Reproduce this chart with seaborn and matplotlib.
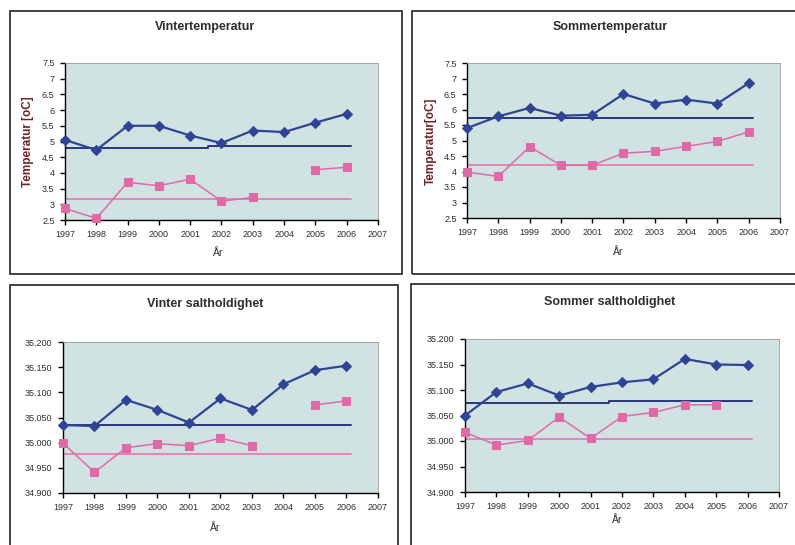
import numpy as np
import pandas as pd
import matplotlib
matplotlib.use("Agg")
import matplotlib.pyplot as plt
from matplotlib.patches import Rectangle
from matplotlib.ticker import FixedLocator, FuncFormatter
import seaborn as sns

# ---- data -------------------------------------------------------------
years = list(range(1997, 2007))
x_ticks = list(range(1997, 2008))
ref_span = [1997, 2006.15]

vinter_temp_a = [5.05, 4.73, 5.50, 5.50, 5.19, 4.95, 5.35, 5.30, 5.60, 5.88]
vinter_temp_b = [2.87, 2.55, 3.70, 3.59, 3.80, 3.10, 3.22, np.nan, 4.10, 4.18]
vinter_temp_ref_a = [4.80, 4.86]
vinter_temp_ref_b = [3.16, 3.16]

sommer_temp_a = [5.40, 5.78, 6.05, 5.80, 5.83, 6.50, 6.19, 6.32, 6.19, 6.85]
sommer_temp_b = [3.98, 3.84, 4.80, 4.20, 4.20, 4.59, 4.65, 4.81, 4.97, 5.28]
sommer_temp_ref_a = [5.74, 5.74]
sommer_temp_ref_b = [4.20, 4.20]

vinter_salt_a = [35.035, 35.033, 35.085, 35.065, 35.040, 35.088, 35.065, 35.116, 35.144, 35.153]
vinter_salt_b = [34.999, 34.941, 34.990, 34.998, 34.994, 35.009, 34.994, np.nan, 35.075, 35.083]
vinter_salt_ref_a = [35.035, 35.035]
vinter_salt_ref_b = [34.978, 34.978]

sommer_salt_a = [35.050, 35.096, 35.113, 35.089, 35.106, 35.115, 35.121, 35.161, 35.150, 35.149]
sommer_salt_b = [35.017, 34.992, 35.001, 35.047, 35.005, 35.048, 35.056, 35.071, 35.071, np.nan]
sommer_salt_ref_a = [35.075, 35.079]
sommer_salt_ref_b = [35.004, 35.004]

temp_ticks = [2.5, 3, 3.5, 4, 4.5, 5, 5.5, 6, 6.5, 7, 7.5]
salt_ticks = [34.900, 34.950, 35.000, 35.050, 35.100, 35.150, 35.200]

# ---- style ------------------------------------------------------------
sns.set_theme(style="white")
plt.rcParams["font.family"] = ["Liberation Sans", "DejaVu Sans"]

BLUE = "#2F4494"
BLUE_REF = "#2A3580"
PINK = "#E06AA8"
PINK_REF = "#E77DB6"
PLOT_BG = "#D0E3E2"
TEXT = "#2E2E2E"

W, H = 795, 545
fig = plt.figure(figsize=(W / 100, H / 100), dpi=100)
fig.patch.set_facecolor("white")


def fig_rect(left, top, right, bottom):
    return [left / W, 1 - bottom / H, (right - left) / W, (bottom - top) / H]


def segments(values):
    df = pd.DataFrame({"year": years, "value": values})
    df["seg"] = df["value"].isna().cumsum()
    return df.dropna()


def panel(box, frame, title, title_xy, a, b, ref_a, ref_b, ylim, yticks, fmt,
          xlabel_xy, ylabel=None, ylabel_xy=None):
    fl, ft, fr, fb = frame
    fig.patches.append(Rectangle((fl / W, 1 - fb / H), (fr - fl) / W, (fb - ft) / H,
                                 transform=fig.transFigure, fill=False,
                                 edgecolor="#333333", linewidth=1.3, zorder=0))
    ax = fig.add_axes(fig_rect(*box))
    ax.set_facecolor(PLOT_BG)

    # reference levels
    sns.lineplot(x=ref_span, y=ref_a, ax=ax, color=BLUE_REF, linewidth=1.4,
                 drawstyle="steps-mid", estimator=None, zorder=2)
    sns.lineplot(x=ref_span, y=ref_b, ax=ax, color=PINK_REF, linewidth=1.3,
                 drawstyle="steps-mid", estimator=None, zorder=2)

    # measured series
    sns.lineplot(data=segments(b), x="year", y="value", units="seg", estimator=None,
                 ax=ax, color=PINK, linewidth=1.1, marker="s", markersize=6,
                 markerfacecolor=PINK, markeredgecolor=PINK, clip_on=False, zorder=3)
    sns.lineplot(data=segments(a), x="year", y="value", units="seg", estimator=None,
                 ax=ax, color=BLUE, linewidth=1.6, marker="D", markersize=5,
                 markerfacecolor=BLUE, markeredgecolor=BLUE, clip_on=False, zorder=4)

    ax.set_xlim(1997, 2007)
    ax.set_ylim(*ylim)
    ax.xaxis.set_major_locator(FixedLocator(x_ticks))
    ax.yaxis.set_major_locator(FixedLocator(yticks))
    ax.yaxis.set_major_formatter(FuncFormatter(fmt))
    ax.set_xlabel("")
    ax.set_ylabel("")
    ax.tick_params(axis="both", which="major", direction="out", length=3.5,
                   width=1.0, color="black", labelsize=6.5, labelcolor=TEXT, pad=4,
                   bottom=True, left=True)
    for side in ("left", "bottom"):
        ax.spines[side].set_color("black")
        ax.spines[side].set_linewidth(1.0)
    for side in ("top", "right"):
        ax.spines[side].set_color("#9A9A9A")
        ax.spines[side].set_linewidth(0.6)

    fig.text(title_xy[0] / W, 1 - title_xy[1] / H, title, ha="center", va="center",
             fontsize=9, fontweight="bold", color=TEXT)
    fig.text(xlabel_xy[0] / W, 1 - xlabel_xy[1] / H, "År", ha="center", va="center",
             fontsize=7.5, color=TEXT)
    if ylabel:
        fig.text(ylabel_xy[0] / W, 1 - ylabel_xy[1] / H, ylabel, ha="center",
                 va="center", rotation=90, fontsize=8.5, fontweight="bold",
                 color="#6E2424")
    return ax


def temp_fmt(v, _):
    return f"{v:g}"


def salt_fmt(v, _):
    return f"{v:.3f}"


panel((65, 63, 378, 220), (10, 11, 402, 274), "Vintertemperatur", (205, 27),
      vinter_temp_a, vinter_temp_b, vinter_temp_ref_a, vinter_temp_ref_b,
      (2.5, 7.5), temp_ticks, temp_fmt, (218, 253),
      "Temperatur [oC]", (28, 142))

panel((467, 63, 780, 218), (412, 11, 800, 274), "Sommertemperatur", (610, 27),
      sommer_temp_a, sommer_temp_b, sommer_temp_ref_a, sommer_temp_ref_b,
      (2.5, 7.5), temp_ticks, temp_fmt, (618, 252),
      "Temperatur[oC]", (431, 141))

panel((63, 342, 378, 493), (10, 285, 398, 560), "Vinter saltholdighet", (205, 304),
      vinter_salt_a, vinter_salt_b, vinter_salt_ref_a, vinter_salt_ref_b,
      (34.9, 35.2), salt_ticks, salt_fmt, (215, 528))

panel((465, 339, 779, 492), (411, 284, 800, 560), "Sommer saltholdighet", (610, 302),
      sommer_salt_a, sommer_salt_b, sommer_salt_ref_a, sommer_salt_ref_b,
      (34.9, 35.2), salt_ticks, salt_fmt, (617, 520))

fig.savefig("out.png", dpi=100, facecolor="white")
